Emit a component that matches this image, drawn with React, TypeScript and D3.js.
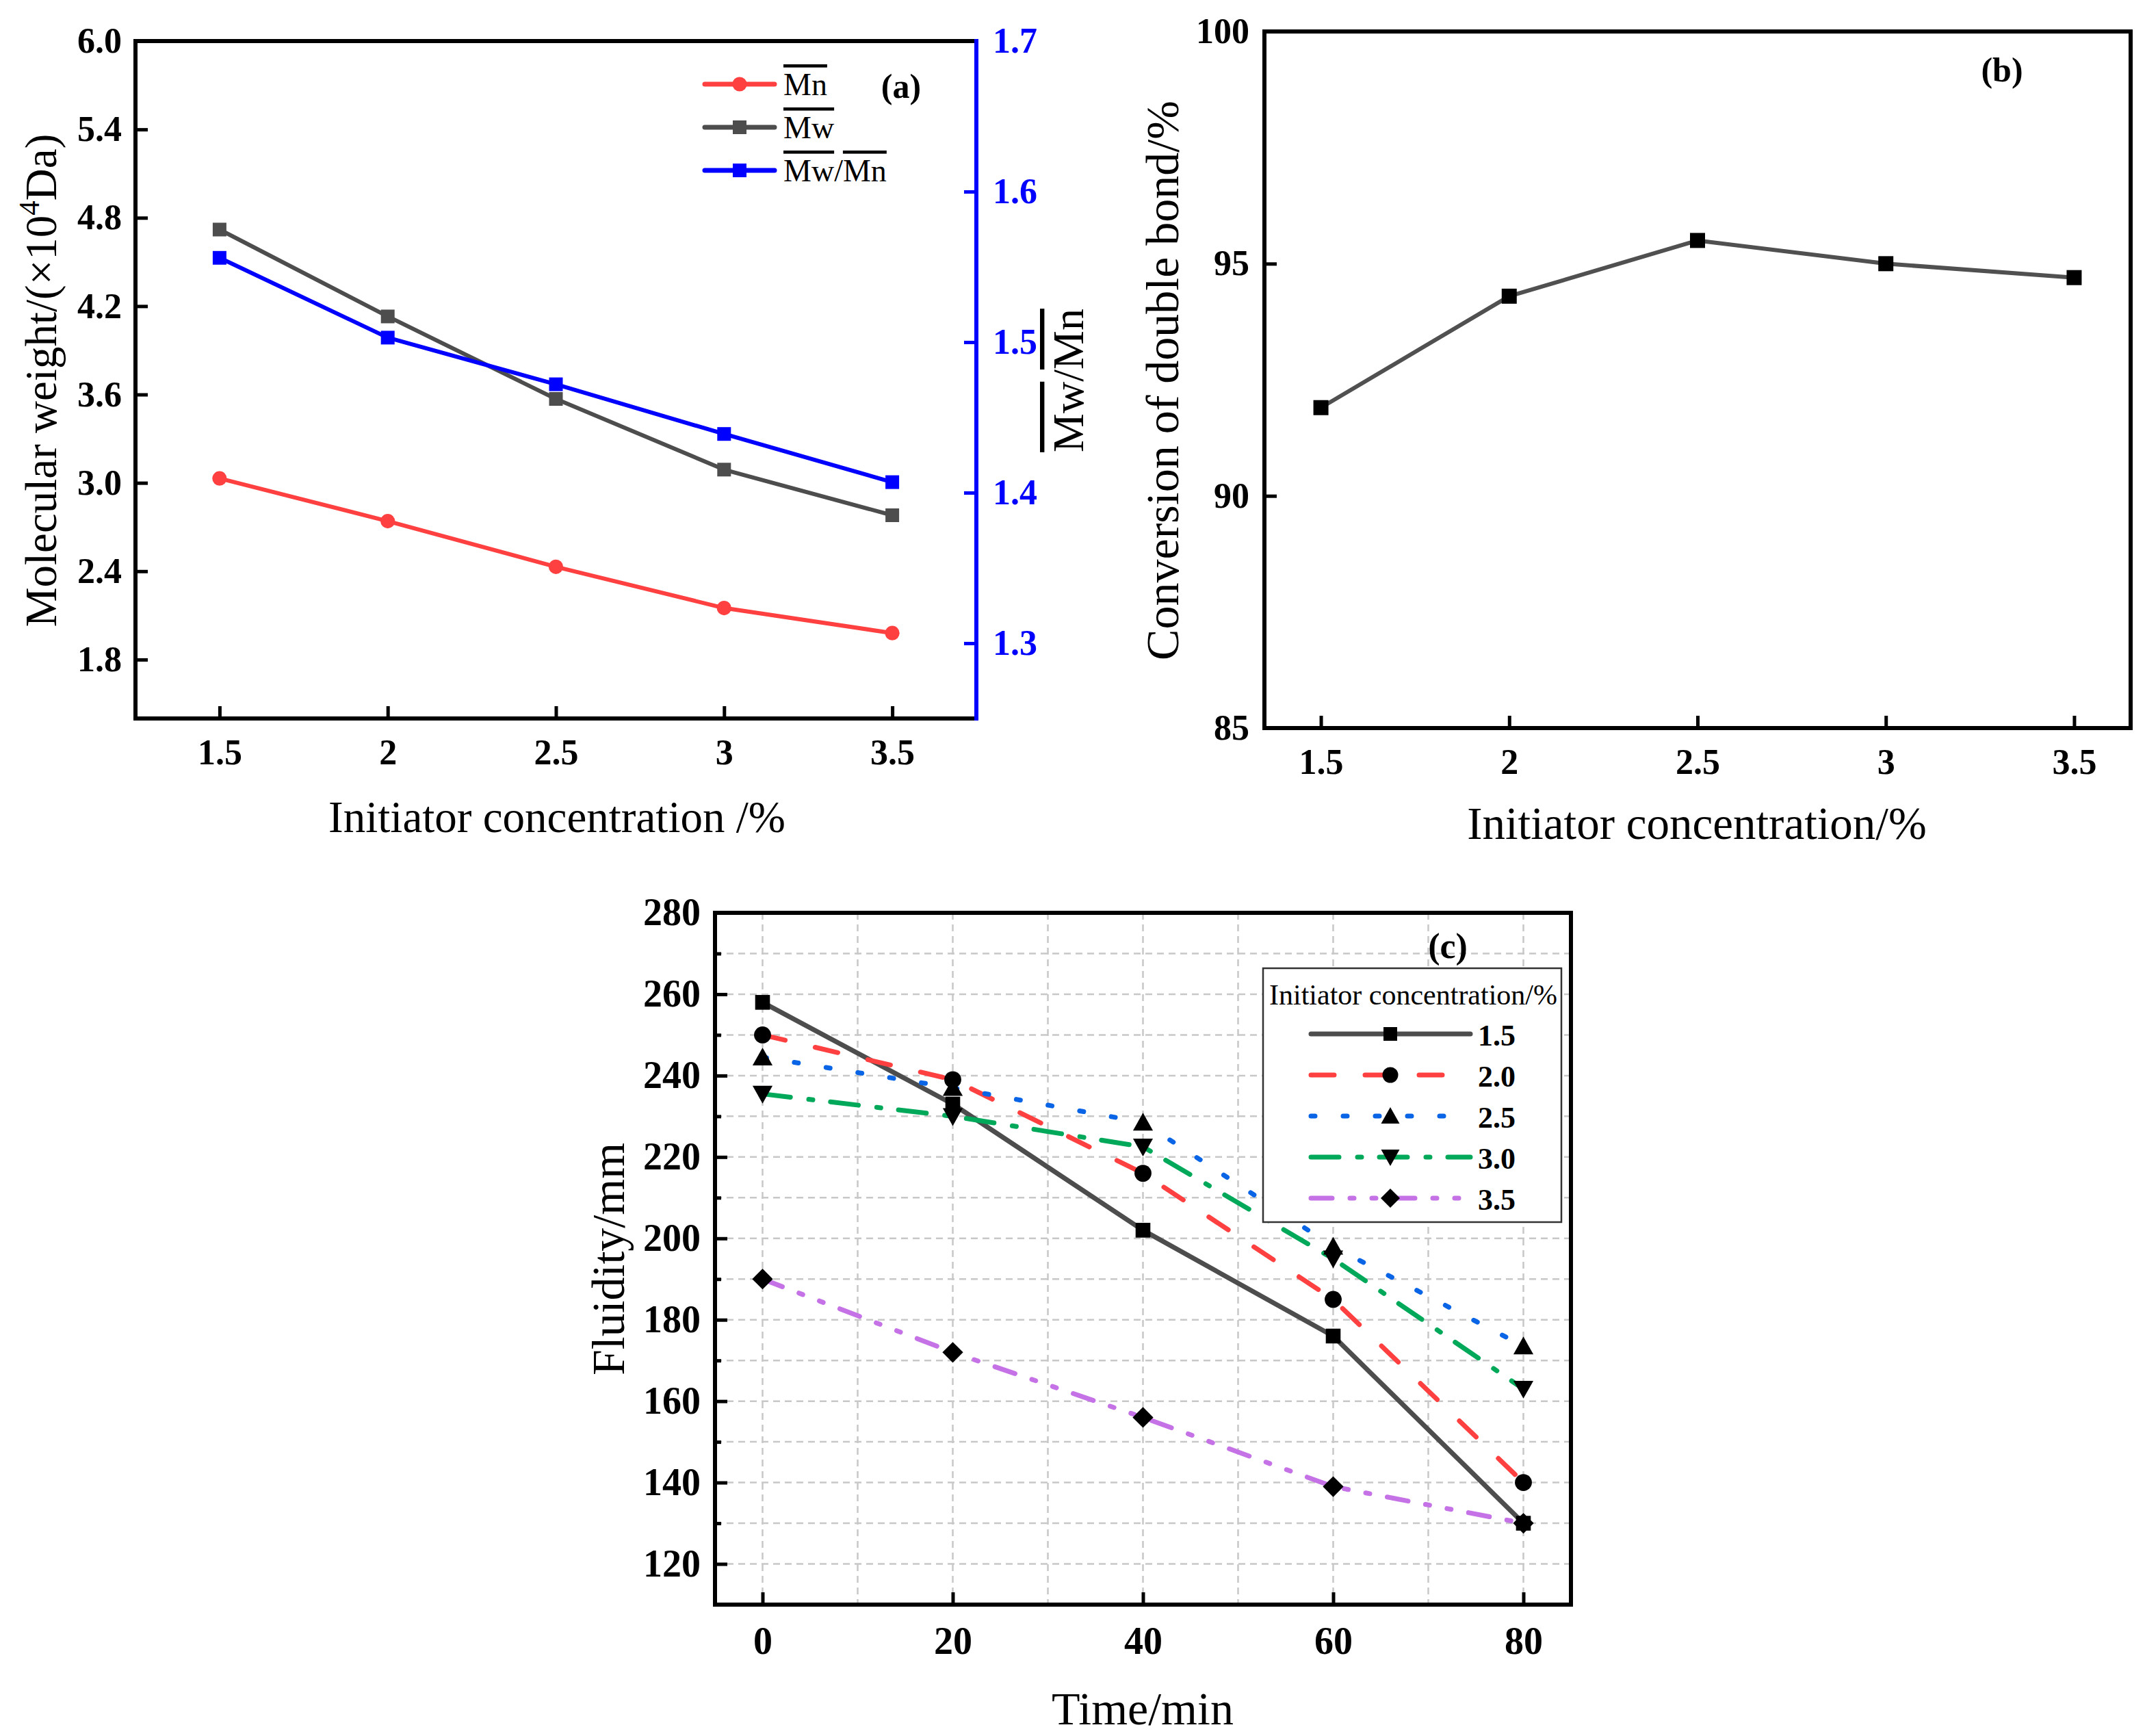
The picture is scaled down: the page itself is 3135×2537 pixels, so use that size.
import { useEffect, useRef } from "react";
import * as d3 from "d3";

const W = 3135;
const H = 2537;
const FONT = "'Liberation Serif', 'Times New Roman', serif";

// ---- panel (a): molecular weight vs initiator concentration
const concentrations = [1.5, 2, 2.5, 3, 3.5];
const mnValues = [3.03, 2.74, 2.43, 2.15, 1.98];
const mwValues = [4.72, 4.13, 3.57, 3.09, 2.78];
const pdiValues = [1.556, 1.503, 1.472, 1.439, 1.407];
const leftTicksA = [1.8, 2.4, 3.0, 3.6, 4.2, 4.8, 5.4, 6.0];
const rightTicksA = [1.3, 1.4, 1.5, 1.6, 1.7];

// ---- panel (b): conversion of double bond
const conversionValues = [91.9, 94.3, 95.5, 95.0, 94.7];
const yTicksB = [85, 90, 95, 100];

// ---- panel (c): fluidity over time
const times = [0, 20, 40, 60, 80];
const seriesLabels = ["1.5", "2.0", "2.5", "3.0", "3.5"];
const fluidity15 = [258, 233, 202, 176, 130];
const fluidity20 = [250, 239, 216, 185, 140];
const fluidity25 = [244.5, 237, 228.5, 198, 173.5];
const fluidity30 = [235.5, 230, 222.5, 195, 163];
const fluidity35 = [190, 172, 156, 139, 130];
const yTicksC = [120, 140, 160, 180, 200, 220, 240, 260, 280];
const yMinorC = [130, 150, 170, 190, 210, 230, 250, 270];
const gridXC = [0, 10, 20, 30, 40, 50, 60, 70, 80];
const gridYC = [120, 130, 140, 150, 160, 170, 180, 190, 200, 210, 220, 230, 240, 250, 260, 270];

function symbolPath(kind: string, s = 1) {
  switch (kind) {
    case "square":
      return `M${-10 * s},${-10 * s}h${20 * s}v${20 * s}h${-20 * s}Z`;
    case "circle":
      return d3.symbol(d3.symbolCircle, Math.PI * (11.5 * s) ** 2)() as string;
    case "up":
      return `M0,${-13 * s}L${13.5 * s},${11 * s}L${-13.5 * s},${11 * s}Z`;
    case "down":
      return `M0,${13 * s}L${13.5 * s},${-11 * s}L${-13.5 * s},${-11 * s}Z`;
    case "diamond":
      return `M0,${-14 * s}L${14 * s},0L0,${14 * s}L${-14 * s},0Z`;
  }
  return "";
}

function styleAxis(sel: any, color = "#000", size = 52) {
  sel.select(".domain").remove();
  sel.selectAll("line").attr("stroke", color).attr("stroke-width", 5);
  sel
    .selectAll("text")
    .attr("fill", color)
    .attr("font-family", FONT)
    .attr("font-weight", "bold")
    .attr("font-size", size);
}

function frame(g: any, x0: number, y0: number, x1: number, y1: number, rightColor = "#000") {
  const sides = [
    [x0, y1, x1, y1, "#000"],
    [x0, y0, x0, y1, "#000"],
    [x0, y0, x1, y0, "#000"],
    [x1, y0, x1, y1, rightColor],
  ];
  sides.forEach(([a, b, c, d, col]) => {
    g.append("line")
      .attr("x1", a).attr("y1", b).attr("x2", c).attr("y2", d)
      .attr("stroke", col).attr("stroke-width", 6).attr("stroke-linecap", "square");
  });
}

export default function App() {
  const ref = useRef<SVGSVGElement>(null);

  useEffect(() => {
    if (!ref.current) return;
    const svg = d3.select(ref.current);
    svg.selectAll("*").remove();
    svg.append("rect").attr("width", W).attr("height", H).attr("fill", "#fff");

    // ================= (a) =================
    const ax = d3.scaleLinear().domain([1.25, 3.75]).range([198, 1427]);
    const ayL = d3.scaleLinear().domain([1.4, 6.0]).range([1050, 60]);
    const ayR = d3.scaleLinear().domain([1.25, 1.7]).range([1050, 60]);
    const ga = svg.append("g");

    styleAxis(
      ga.append("g").attr("transform", "translate(0,1050)")
        .call(d3.axisBottom(ax).tickValues(concentrations).tickFormat(d3.format("") as any).tickSize(-18).tickPadding(30))
    );
    styleAxis(
      ga.append("g").attr("transform", "translate(198,0)")
        .call(d3.axisLeft(ayL).tickValues(leftTicksA).tickFormat(d3.format(".1f") as any).tickSize(-18).tickPadding(20))
    );
    styleAxis(
      ga.append("g").attr("transform", "translate(1427,0)")
        .call(d3.axisRight(ayR).tickValues(rightTicksA).tickFormat(d3.format(".1f") as any).tickSize(-18).tickPadding(24)),
      "#0000FF"
    );

    const seriesA = [
      { values: mnValues, scale: ayL, color: "#FF4040", marker: "circle" },
      { values: mwValues, scale: ayL, color: "#4D4D4D", marker: "square" },
      { values: pdiValues, scale: ayR, color: "#0000FF", marker: "square" },
    ];
    seriesA.forEach((s) => {
      const line = d3.line<number>().x((_, i) => ax(concentrations[i])).y((d) => s.scale(d));
      ga.append("path").attr("d", line(s.values)).attr("fill", "none")
        .attr("stroke", s.color).attr("stroke-width", 6).attr("stroke-linejoin", "round");
      ga.selectAll(null).data(s.values).enter().append("path")
        .attr("d", symbolPath(s.marker, s.marker === "circle" ? 0.92 : 1))
        .attr("transform", (d, i) => `translate(${ax(concentrations[i])},${s.scale(d)})`)
        .attr("fill", s.color);
    });

    // legend (a)
    const legA = [
      { parts: [["Mn", true]], color: "#FF4040", marker: "circle" },
      { parts: [["Mw", true]], color: "#4D4D4D", marker: "square" },
      { parts: [["Mw", true], ["/", false], ["Mn", true]], color: "#0000FF", marker: "square" },
    ];
    legA.forEach((l, i) => {
      const y = 123 + i * 63;
      ga.append("line").attr("x1", 1030).attr("x2", 1132).attr("y1", y).attr("y2", y)
        .attr("stroke", l.color).attr("stroke-width", 7).attr("stroke-linecap", "round");
      ga.append("path").attr("d", symbolPath(l.marker, l.marker === "circle" ? 0.92 : 1))
        .attr("transform", `translate(1081,${y})`).attr("fill", l.color);
      const t = ga.append("text").attr("x", 1145).attr("y", y + 16)
        .attr("font-family", FONT).attr("font-size", 46);
      l.parts.forEach(([txt, over]) => {
        const sp = t.append("tspan").text(txt as string);
        if (over) sp.style("text-decoration", "overline");
      });
    });
    ga.append("text").attr("x", 1317).attr("y", 143).attr("text-anchor", "middle")
      .attr("font-family", FONT).attr("font-weight", "bold").attr("font-size", 50).text("(a)");

    frame(ga, 198, 60, 1427, 1050, "#0000FF");

    ga.append("text").attr("x", 814).attr("y", 1216).attr("text-anchor", "middle")
      .attr("font-family", FONT).attr("font-size", 65).text("Initiator concentration /%");
    const ylA = ga.append("text").attr("transform", "translate(82,556) rotate(-90)")
      .attr("text-anchor", "middle").attr("font-family", FONT).attr("font-size", 65);
    ylA.append("tspan").text("Molecular weight/(\u00D710");
    ylA.append("tspan").attr("dy", -25).attr("font-size", 43).text("4");
    ylA.append("tspan").attr("dy", 25).text("Da)");
    const yrA = ga.append("text").attr("transform", "translate(1583,556) rotate(-90)")
      .attr("text-anchor", "middle").attr("font-family", FONT).attr("font-size", 64);
    yrA.append("tspan").style("text-decoration", "overline").text("Mw");
    yrA.append("tspan").text("/");
    yrA.append("tspan").style("text-decoration", "overline").text("Mn");

    // ================= (b) =================
    const bx = d3.scaleLinear().domain([1.35, 3.65]).range([1848, 3114]);
    const by = d3.scaleLinear().domain([85, 100]).range([1064, 46]);
    const gb = svg.append("g");
    styleAxis(
      gb.append("g").attr("transform", "translate(0,1064)")
        .call(d3.axisBottom(bx).tickValues(concentrations).tickFormat(d3.format("") as any).tickSize(-18).tickPadding(30))
    );
    styleAxis(
      gb.append("g").attr("transform", "translate(1848,0)")
        .call(d3.axisLeft(by).tickValues(yTicksB).tickFormat(d3.format("d") as any).tickSize(-18).tickPadding(22))
    );
    const lineB = d3.line<number>().x((_, i) => bx(concentrations[i])).y((d) => by(d));
    gb.append("path").attr("d", lineB(conversionValues)).attr("fill", "none")
      .attr("stroke", "#505050").attr("stroke-width", 6).attr("stroke-linejoin", "round");
    gb.selectAll(null).data(conversionValues).enter().append("path")
      .attr("d", symbolPath("square", 1.1))
      .attr("transform", (d, i) => `translate(${bx(concentrations[i])},${by(d)})`)
      .attr("fill", "#000");
    frame(gb, 1848, 46, 3114, 1064);
    gb.append("text").attr("x", 2926).attr("y", 119).attr("text-anchor", "middle")
      .attr("font-family", FONT).attr("font-weight", "bold").attr("font-size", 50).text("(b)");
    gb.append("text").attr("x", 2480).attr("y", 1226).attr("text-anchor", "middle")
      .attr("font-family", FONT).attr("font-size", 67).text("Initiator concentration/%");
    gb.append("text").attr("transform", "translate(1722,556) rotate(-90)")
      .attr("text-anchor", "middle").attr("font-family", FONT).attr("font-size", 68)
      .text("Conversion of double bond/%");

    // ================= (c) =================
    const cx = d3.scaleLinear().domain([-5, 85]).range([1045, 2296]);
    const cy = d3.scaleLinear().domain([110, 280]).range([2345, 1334]);
    const gc = svg.append("g");

    gc.selectAll(null).data(gridXC).enter().append("line")
      .attr("x1", (d) => cx(d)).attr("x2", (d) => cx(d)).attr("y1", 1334).attr("y2", 2345)
      .attr("stroke", "#C8C8C8").attr("stroke-width", 2.5).attr("stroke-dasharray", "10,7");
    gc.selectAll(null).data(gridYC).enter().append("line")
      .attr("y1", (d) => cy(d)).attr("y2", (d) => cy(d)).attr("x1", 1045).attr("x2", 2296)
      .attr("stroke", "#C8C8C8").attr("stroke-width", 2.5).attr("stroke-dasharray", "10,7");

    styleAxis(
      gc.append("g").attr("transform", "translate(0,2345)")
        .call(d3.axisBottom(cx).tickValues(times).tickFormat(d3.format("d") as any).tickSize(-18).tickPadding(32)),
      "#000", 56
    );
    styleAxis(
      gc.append("g").attr("transform", "translate(1045,0)")
        .call(d3.axisLeft(cy).tickValues(yTicksC).tickFormat(d3.format("d") as any).tickSize(-18).tickPadding(21)),
      "#000", 56
    );
    styleAxis(
      gc.append("g").attr("transform", "translate(1045,0)")
        .call(d3.axisLeft(cy).tickValues(yMinorC).tickFormat(() => "").tickSize(-9))
    );

    const seriesC = [
      { values: fluidity15, color: "#4D4D4D", dash: "none", marker: "square" },
      { values: fluidity20, color: "#FF4040", dash: "34,45", marker: "circle" },
      { values: fluidity25, color: "#0A64E6", dash: "6,41", marker: "up" },
      { values: fluidity30, color: "#00A859", dash: "41,27,6,26", marker: "down" },
      { values: fluidity35, color: "#C472E6", dash: "31,26,6,26,6,26", marker: "diamond" },
    ];
    const lineC = d3.line<number>().x((_, i) => cx(times[i])).y((d) => cy(d));
    seriesC.forEach((s) => {
      gc.append("path").attr("d", lineC(s.values)).attr("fill", "none")
        .attr("stroke", s.color).attr("stroke-width", 7)
        .attr("stroke-linecap", s.dash === "none" ? "butt" : "round")
        .attr("stroke-linejoin", "round")
        .attr("stroke-dasharray", s.dash);
    });
    seriesC.forEach((s) => {
      gc.selectAll(null).data(s.values).enter().append("path")
        .attr("d", symbolPath(s.marker, 1.08))
        .attr("transform", (d, i) => `translate(${cx(times[i])},${cy(d)})`)
        .attr("fill", "#000");
    });

    // legend (c)
    const lg = gc.append("g");
    lg.append("rect").attr("x", 1846).attr("y", 1415).attr("width", 436).attr("height", 371)
      .attr("fill", "#fff").attr("stroke", "#333").attr("stroke-width", 2.5);
    lg.append("text").attr("x", 1855).attr("y", 1468).attr("font-family", FONT).attr("font-size", 42)
      .text("Initiator concentration/%");
    seriesC.forEach((s, i) => {
      const y = 1511 + i * 60;
      lg.append("line").attr("x1", 1916).attr("x2", 2149).attr("y1", y).attr("y2", y)
        .attr("stroke", s.color).attr("stroke-width", 7)
        .attr("stroke-linecap", "round")
        .attr("stroke-dasharray", s.dash);
      lg.append("path").attr("d", symbolPath(s.marker)).attr("transform", `translate(2032,${y})`).attr("fill", "#000");
      lg.append("text").attr("x", 2160).attr("y", y + 17).attr("font-family", FONT)
        .attr("font-weight", "bold").attr("font-size", 44).text(seriesLabels[i]);
    });

    frame(gc, 1045, 1334, 2296, 2345);
    gc.append("text").attr("x", 2116).attr("y", 1400).attr("text-anchor", "middle")
      .attr("font-family", FONT).attr("font-weight", "bold").attr("font-size", 52).text("(c)");
    gc.append("text").attr("x", 1670).attr("y", 2520).attr("text-anchor", "middle")
      .attr("font-family", FONT).attr("font-size", 68).text("Time/min");
    gc.append("text").attr("transform", "translate(912,1840) rotate(-90)")
      .attr("text-anchor", "middle").attr("font-family", FONT).attr("font-size", 68).text("Fluidity/mm");
  }, []);

  return (
    <svg
      ref={ref}
      width={W}
      height={H}
      style={{ position: "absolute", left: 0, top: 0, display: "block", background: "#fff" }}
    />
  );
}
